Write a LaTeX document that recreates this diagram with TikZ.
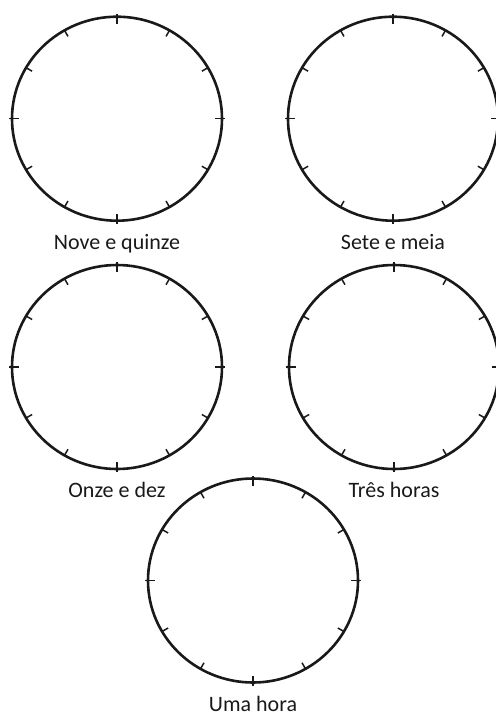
\documentclass[tikz,border=0pt]{standalone}
\usepackage{fontspec}
\setmainfont{Carlito}
\begin{document}
\begin{tikzpicture}[x=1pt,y=-1pt,
  face/.style={line width=2.6pt, draw=black!90},
  hourtick/.style={line width=1.5pt, draw=black!90},
  lbl/.style={anchor=base, font=\fontsize{22}{26}\selectfont, text=black!90}]
\useasboundingbox (0,0) rectangle (496,716);
\newcommand\myclock[3]{%
  \begin{scope}[shift={(#1,#2)}]
    \node[inner sep=0pt, minimum width=210pt, minimum height=204pt] (#3) at (0,0) {};
    \draw[face] (0,0) ellipse [x radius=105, y radius=102];
    \foreach \a in {0,30,...,330}
      \draw[hourtick] ({105*cos(\a)},{102*sin(\a)}) -- ({98*cos(\a)},{95*sin(\a)});
    \foreach \a in {0,90,180,270}
      \draw[hourtick] ({105*cos(\a)},{102*sin(\a)}) -- ({108*cos(\a)},{105*sin(\a)});
  \end{scope}}
\myclock{117}{118.7}{c1}
\myclock{393}{118.7}{c2}
\myclock{117}{367}{c3}
\myclock{394}{367}{c4}
\myclock{253}{580.5}{c5}
\node[lbl] (l1) at (117,249) {Nove e quinze};
\node[lbl] (l2) at (393,249) {Sete e meia};
\node[lbl] (l3) at (117,497) {Onze e dez};
\node[lbl] (l4) at (394,497) {Três horas};
\node[lbl] (l5) at (253,711) {Uma hora};
\end{tikzpicture}
\end{document}
